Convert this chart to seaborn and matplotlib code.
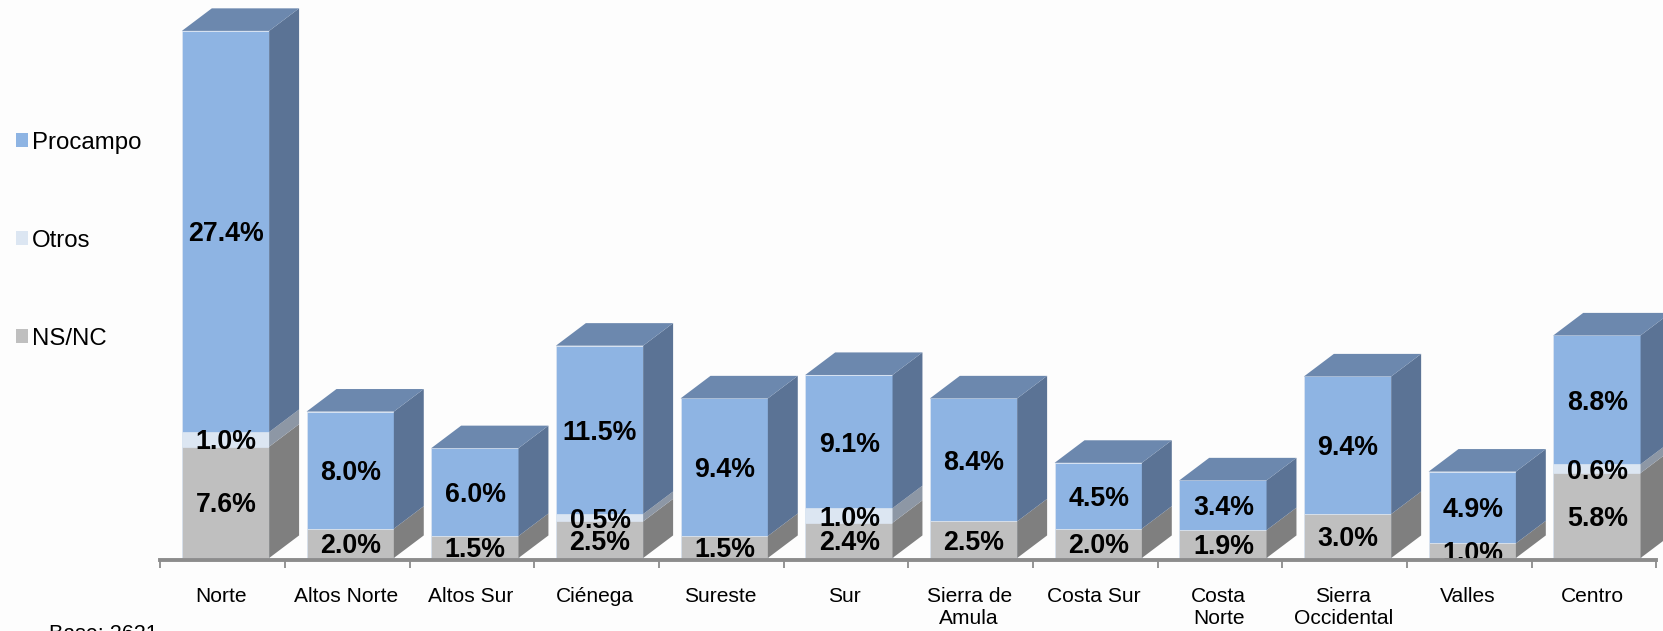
import numpy as np
import pandas as pd
import seaborn as sns
import matplotlib.pyplot as plt
from matplotlib.patches import Patch, Polygon

##############################################################################
# Data
##############################################################################
regions = [
    'Norte', 'Altos Norte', 'Altos Sur', 'Ciénega', 'Sureste', 'Sur',
    'Sierra de\nAmula', 'Costa Sur', 'Costa\nNorte', 'Sierra\nOccidental',
    'Valles', 'Centro'
]
nsnc = [7.6, 2.0, 1.5, 2.5, 1.5, 2.4, 2.5, 2.0, 1.9, 3.0, 1.0, 5.8]
otros = [1.0, 0, 0, 0.5, 0, 1.0, 0, 0, 0, 0, 0, 0.6]
procampo = [27.4, 8.0, 6.0, 11.5, 9.4, 9.1, 8.4, 4.5, 3.4, 9.4, 4.9, 8.8]
baseText = 'Base: 2621'
##############################################################################
# Parameters Setup
##############################################################################
(W, H) = (1663, 631)
(FRONT, TOP, SIDE) = (
    ['#BFBFBF', '#DCE6F2', '#8EB4E3'],
    '#6C88AE',
    ['#7F7F7F', '#8D97A5', '#5B7395']
)
names = ['NS/NC', 'Otros', 'Procampo']
(depthX, depthY) = (0.24, 1.54)
(barW, edgeCol) = (0.70, '#DCE6F2')
sns.set_theme(style='white')
plt.rcParams['font.family'] = ['Liberation Sans', 'DejaVu Sans']
##############################################################################
# Stacks, drawn back to front
##############################################################################
layers = np.array([nsnc, otros, procampo])
cumul = np.cumsum(layers, axis=0)
df = pd.DataFrame({
    'region': regions, 'l0': cumul[0], 'l1': cumul[1], 'l2': cumul[2]
})
fig = plt.figure(figsize=(W / 100, H / 100), dpi=100, facecolor='#FDFDFD')
ax = fig.add_axes([0, 0, 1, 1])
ax.set_facecolor('#FDFDFD')
for lvl in (2, 1, 0):
    sns.barplot(
        data=df, x='region', y='l' + str(lvl), color=FRONT[lvl],
        saturation=1, width=barW, edgecolor=edgeCol, linewidth=0.5, ax=ax
    )
##############################################################################
# Side and top faces
##############################################################################
for (i, tot) in enumerate(cumul[2]):
    right = i + barW / 2
    left = i - barW / 2
    for lvl in range(3):
        low = cumul[lvl - 1][i] if lvl > 0 else 0
        high = cumul[lvl][i]
        if high <= low:
            continue
        ax.add_patch(Polygon(
            [
                (right, low), (right + depthX, low + depthY),
                (right + depthX, high + depthY), (right, high)
            ],
            closed=True, facecolor=SIDE[lvl], edgecolor='none', zorder=1
        ))
    ax.add_patch(Polygon(
        [
            (left, tot), (left + depthX, tot + depthY),
            (right + depthX, tot + depthY), (right, tot)
        ],
        closed=True, facecolor=TOP, edgecolor='none', zorder=1
    ))
##############################################################################
# Value labels
##############################################################################
for (i, _) in enumerate(regions):
    for lvl in range(3):
        val = layers[lvl][i]
        if val <= 0:
            continue
        low = cumul[lvl - 1][i] if lvl > 0 else 0
        ax.text(
            i + 0.004, low + val / 2, '{:.1f}%'.format(val),
            ha='center', va='center_baseline', fontsize=19.3,
            fontweight='bold', color='black', zorder=2
        )
##############################################################################
# Axes
##############################################################################
ax.set_xlim(-1.809, 11.53)
ax.set_ylim(-4.986, 38.11)
pos = np.arange(len(regions) + 1) - 0.524
ax.set_xticks(pos, [''] * len(pos))
ax.set_xticks(np.arange(len(regions)) - 0.035, regions, minor=True)
ax.tick_params(
    axis='x', which='major', length=6, width=1.3, color='#8C8C8C',
    bottom=True, direction='out'
)
ax.tick_params(
    axis='x', which='minor', length=0, pad=19.5, labelsize=15.1,
    labelcolor='black'
)
for lab in ax.get_xticklabels(minor=True):
    lab.set_linespacing(1.2)
    lab.set_va('top')
ax.set_yticks([])
ax.set_xlabel('')
ax.set_ylabel('')
for side in ('top', 'left', 'right'):
    ax.spines[side].set_visible(False)
ax.spines['bottom'].set_position(('data', -0.16))
ax.spines['bottom'].set_bounds(pos[0], pos[-1])
ax.spines['bottom'].set_color('#8C8C8C')
ax.spines['bottom'].set_linewidth(2.8)
##############################################################################
# Legend and base note
##############################################################################
handles = [Patch(facecolor=FRONT[j], edgecolor='none') for j in (2, 1, 0)]
ax.legend(
    handles, [names[j] for j in (2, 1, 0)], loc='upper left',
    bbox_to_anchor=(16 / W, 1 - 132 / H), bbox_transform=fig.transFigure,
    frameon=False, fontsize=17.3, labelspacing=3.16, borderaxespad=0,
    borderpad=0, handlelength=0.52, handleheight=0.52, handletextpad=0.16,
    labelcolor='black'
)
fig.text(
    49 / W, 1 - 624 / H, baseText, fontsize=15.5, va='top', ha='left',
    color='black'
)
fig.savefig('out.png', dpi=100, facecolor=fig.get_facecolor())
plt.close()
